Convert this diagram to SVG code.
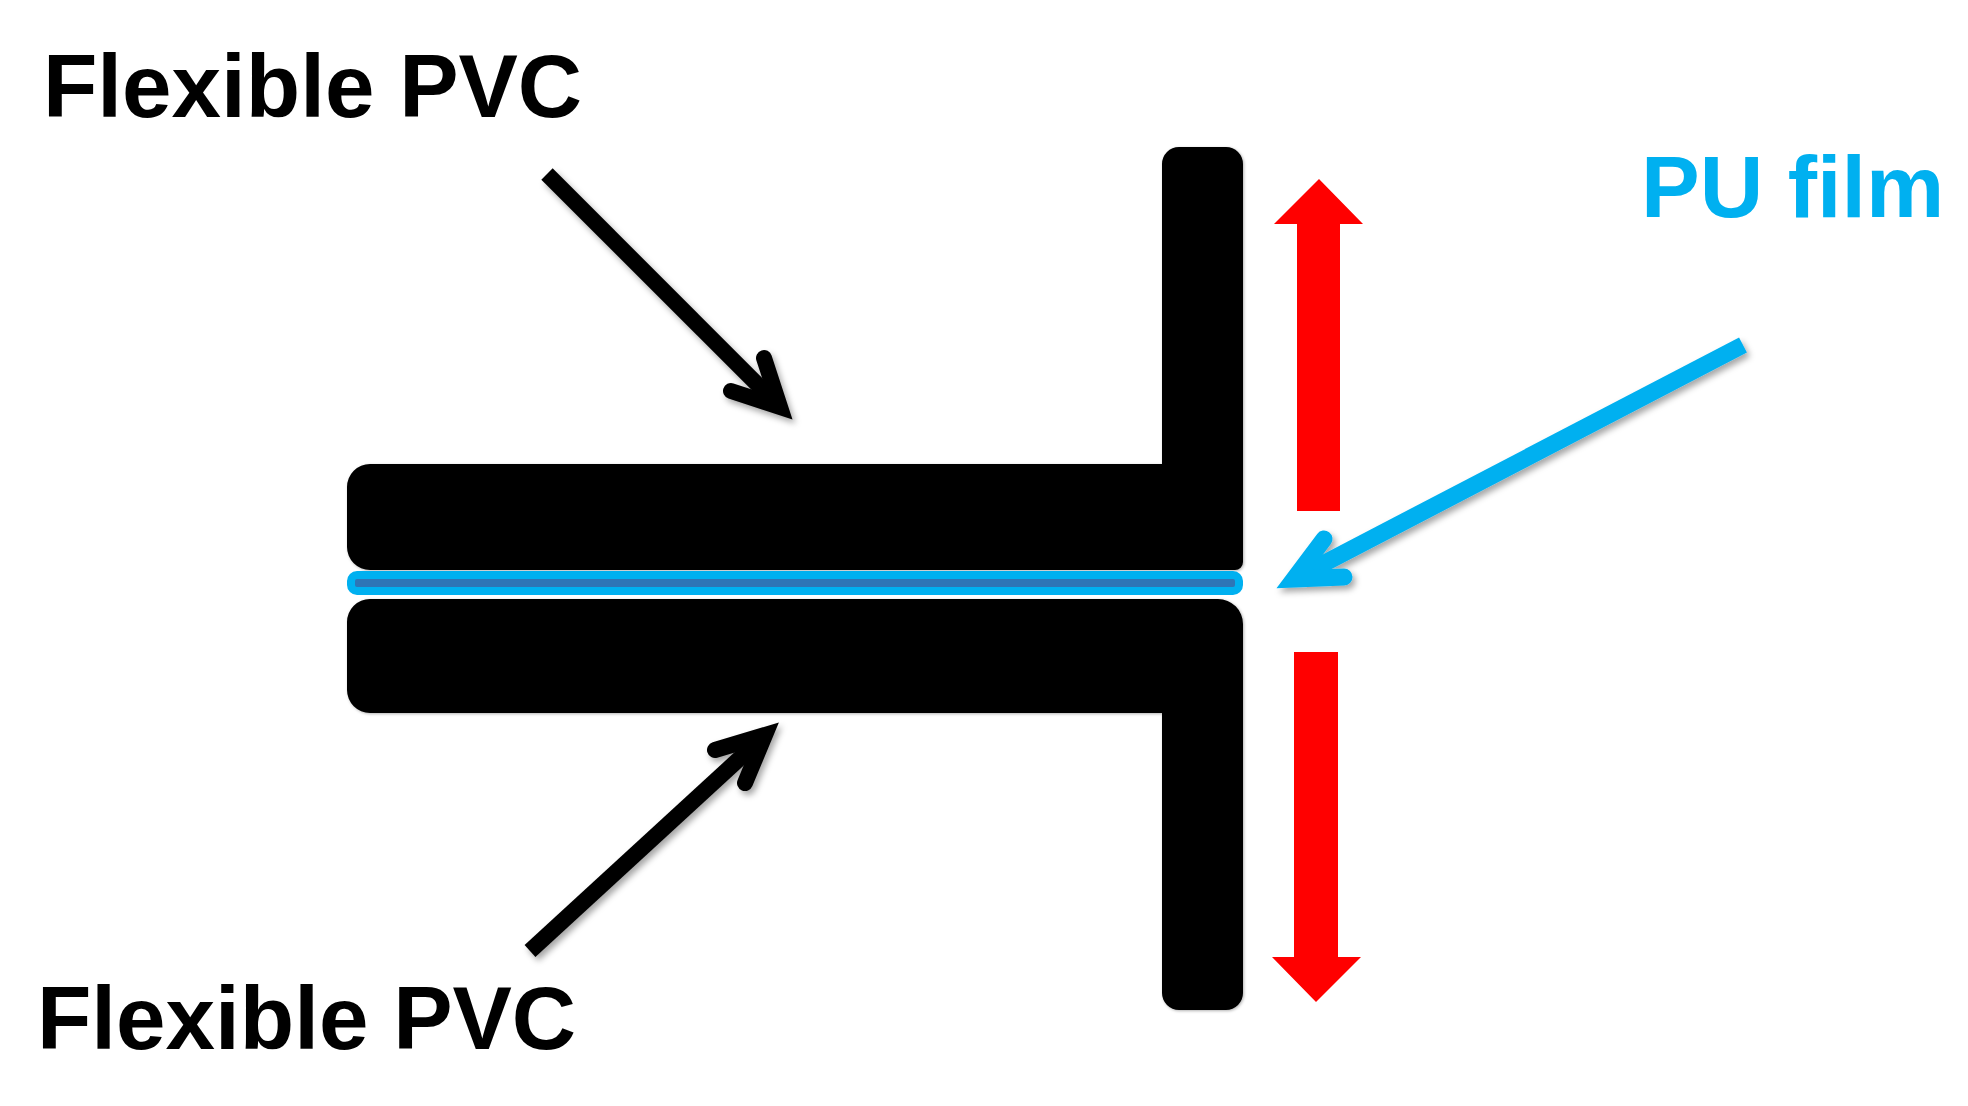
<svg xmlns="http://www.w3.org/2000/svg" width="1968" height="1106" viewBox="0 0 1968 1106">
<style>
.lbl{font-family:"Liberation Sans",Arial,Helvetica,sans-serif;font-weight:bold;font-size:89px}
.blk{fill:#000}
.red{fill:#FF0000}
.arw{fill:none;stroke-linejoin:miter;stroke-miterlimit:6}
.shaft{stroke-linecap:butt}
.head{stroke-linecap:round}
</style>
<defs>
<filter id="sh" x="-20%" y="-20%" width="140%" height="140%">
<feDropShadow dx="3" dy="4" stdDeviation="3" flood-color="#000" flood-opacity="0.35"/>
</filter>
<filter id="sh2" x="-5%" y="-5%" width="110%" height="110%">
<feDropShadow dx="1" dy="1" stdDeviation="1.5" flood-color="#000" flood-opacity="0.3"/>
</filter>
</defs>
<rect width="1968" height="1106" fill="#fff"/>

<g id="upper-pvc" filter="url(#sh2)">
<path class="blk" d="M370,464 H1162 V164 A17,17 0 0 1 1179,147 H1226 A17,17 0 0 1 1243,164 V562 A8,8 0 0 1 1235,570 H370 A23,23 0 0 1 347,547 V487 A23,23 0 0 1 370,464 Z"/>
</g>
<g id="lower-pvc" filter="url(#sh2)">
<path class="blk" d="M370,599 H1218 A25,25 0 0 1 1243,624 V993 A17,17 0 0 1 1226,1010 H1179 A17,17 0 0 1 1162,993 V713 H370 A23,23 0 0 1 347,690 V622 A23,23 0 0 1 370,599 Z"/>
</g>
<g id="pu-film">
<rect x="351" y="575" width="888" height="16" rx="6" fill="#2E75B6" stroke="#00B0F0" stroke-width="8"/>
</g>

<g id="red-arrows">
<polygon class="red" points="1319,179 1363,224 1340,224 1340,511 1297,511 1297,224 1274,224"/>
<polygon class="red" points="1316,1002 1361,957 1338,957 1338,652 1294,652 1294,957 1272,957"/>
</g>

<g id="connectors">
<g id="arrow-upper-pvc" filter="url(#sh)" stroke="#000" stroke-width="16">
<line class="arw shaft" x1="547" y1="174" x2="778" y2="405"/>
<polyline class="arw head" points="764,358 780,407 731,391"/>
</g>
<g id="arrow-lower-pvc" filter="url(#sh)" stroke="#000" stroke-width="16">
<line class="arw shaft" x1="530" y1="951" x2="763" y2="737"/>
<polyline class="arw head" points="715,750 765,735 745,783"/>
</g>
<g id="arrow-pu" filter="url(#sh)" stroke="#00B0F0" stroke-width="17">
<line class="arw shaft" x1="1743" y1="345" x2="1296" y2="578"/>
<polyline class="arw head" points="1324,539 1294,579 1344,577"/>
</g>
</g>

<g id="label-top"><text class="lbl" x="43" y="117" fill="#000">Flexible PVC</text></g>
<g id="label-bottom"><text class="lbl" x="37" y="1049" fill="#000">Flexible PVC</text></g>
<g id="label-pu"><text class="lbl" x="1641" y="217" fill="#00B0F0" style="font-size:88px">PU film</text></g>
</svg>
